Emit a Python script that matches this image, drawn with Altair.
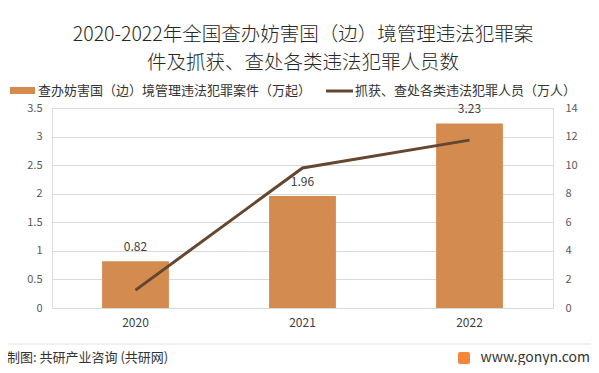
import altair as alt
import pandas as pd

years = ["2020", "2021", "2022"]
cases = [0.82, 1.96, 3.23]          # 万起 (left axis)
persons = [1.25, 9.8, 11.75]        # 万人 (right axis)
case_labels = ["0.82", "1.96", "3.23"]

left_ticks = [0, 0.5, 1, 1.5, 2, 2.5, 3, 3.5]
right_ticks = [0, 2, 4, 6, 8, 10, 12, 14]

title_lines = ["2020-2022年全国查办妨害国（边）境管理违法犯罪案", "件及抓获、查处各类违法犯罪人员数"]
legend_bar = "查办妨害国（边）境管理违法犯罪案件（万起）"
legend_line = "抓获、查处各类违法犯罪人员（万人）"
footer_left = "制图: 共研产业咨询 (共研网)"
footer_right = "www.gonyn.com"

FONT = "Noto Sans CJK SC"
BAR_C = "#D38B4F"
LINE_C = "#654630"

df = pd.DataFrame({"year": years, "cases": cases, "persons": persons, "label": case_labels})

xenc = alt.X(
    "year:N",
    scale=alt.Scale(paddingInner=0.6, paddingOuter=0.3),
    axis=alt.Axis(title=None, labelAngle=0, domain=False, ticks=False, grid=False,
                  labelPadding=9, labelFontSize=12, labelColor="#404040", labelFont=FONT),
)

bars = alt.Chart(df).mark_bar(color=BAR_C).encode(
    x=xenc,
    y=alt.Y("cases:Q", scale=alt.Scale(domain=[0, 3.5], nice=False),
            axis=alt.Axis(title=None, values=left_ticks, format="~g", domain=False, ticks=False,
                          grid=True, gridColor="#D9D9D9", labelPadding=10, labelFontSize=11,
                          labelColor="#595959", labelFont=FONT, orient="left")),
)

bar_text = alt.Chart(df).mark_text(baseline="bottom", dy=-7, fontSize=12, color="#404040", font=FONT).encode(
    x=xenc,
    y=alt.Y("cases:Q", scale=alt.Scale(domain=[0, 3.5], nice=False), axis=None),
    text="label:N",
)

line = alt.Chart(df).mark_line(color=LINE_C, strokeWidth=3).encode(
    x=xenc,
    y=alt.Y("persons:Q", scale=alt.Scale(domain=[0, 14], nice=False),
            axis=alt.Axis(title=None, values=right_ticks, domain=False, ticks=False, grid=False,
                          labelPadding=12, labelFontSize=11, labelColor="#595959",
                          labelFont=FONT, orient="right")),
)


def txt(s, x, y, size, align="left", color="#333333", weight="normal"):
    return alt.Chart(pd.DataFrame({"t": [s]})).mark_text(
        align=align, baseline="middle", fontSize=size, color=color, font=FONT, fontWeight=weight
    ).encode(x=alt.value(x), y=alt.value(y), text="t:N")


one = pd.DataFrame({"a": [0]})

title1 = txt(title_lines[0], 251, -73, 19.5, align="center", color="#262626", weight=300)
title2 = txt(title_lines[1], 251, -45, 19.5, align="center", color="#262626", weight=300)

leg_sw = alt.Chart(one).mark_rect(color=BAR_C).encode(
    x=alt.value(-42), x2=alt.value(-17), y=alt.value(-21), y2=alt.value(-14))
leg_t1 = txt(legend_bar, -14, -17, 13)
leg_ln = alt.Chart(one).mark_rule(color=LINE_C, strokeWidth=3).encode(
    x=alt.value(274), x2=alt.value(301), y=alt.value(-17))
leg_t2 = txt(legend_line, 303, -17, 13)

sep = alt.Chart(one).mark_rule(color="#E3E3E3", strokeWidth=1).encode(
    x=alt.value(-52), x2=alt.value(547), y=alt.value(236))
foot1 = txt(footer_left, -45, 250, 13, color="#333333")
logo = alt.Chart(one).mark_rect(color="#F2873A", cornerRadius=2).encode(
    x=alt.value(406), x2=alt.value(418), y=alt.value(244), y2=alt.value(256))
foot2 = txt(footer_right, 538, 250, 14, align="right", color="#333333")

chart = alt.layer(
    bars, bar_text, line, title1, title2, leg_sw, leg_t1, leg_ln, leg_t2, sep, foot1, logo, foot2
).resolve_scale(y="independent").properties(
    width=501, height=200,
    autosize=alt.AutoSizeParams(type="none"),
    padding={"left": 44, "top": 100, "right": 38, "bottom": 57},
).configure_view(stroke=None).configure(background="white")

chart.save("out.html", embed_options={"renderer": "svg", "actions": False})
